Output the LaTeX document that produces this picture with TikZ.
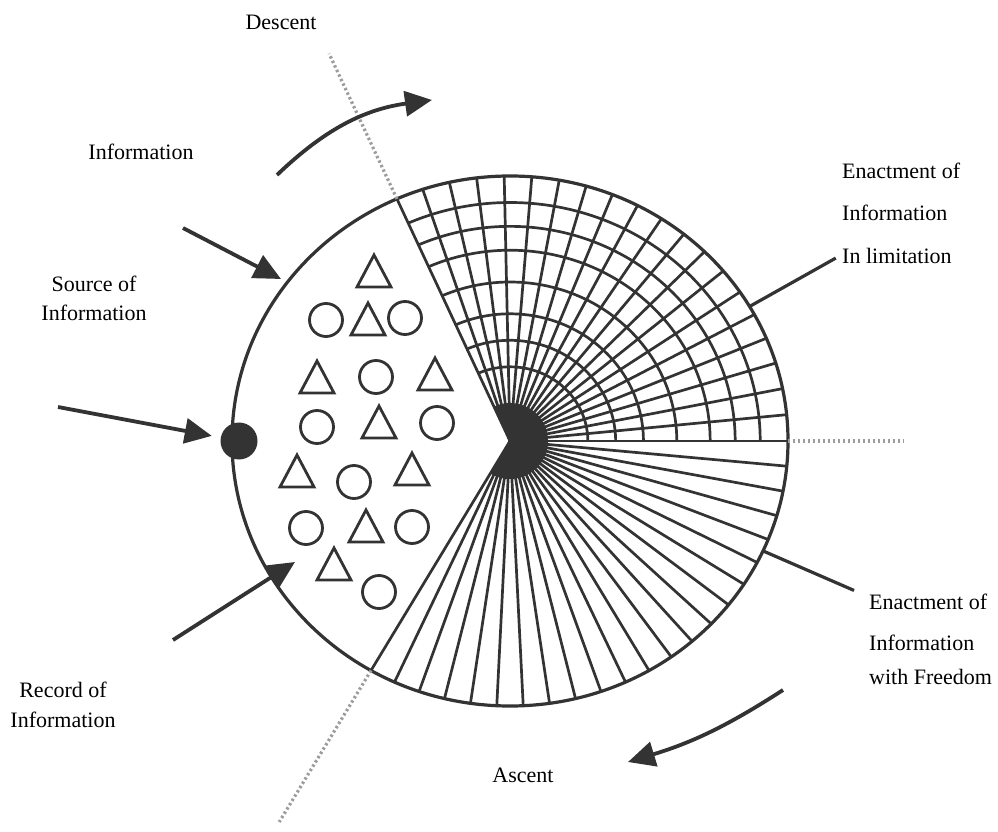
\documentclass[tikz,border=0pt]{standalone}
\usepackage{fontspec}
\setmainfont{Liberation Serif}
\usetikzlibrary{calc,positioning,arrows.meta}
\definecolor{ink}{HTML}{333333}
\definecolor{dotgray}{HTML}{9C9C9C}

\begin{document}
\begin{tikzpicture}[
    x=1pt, y=1pt,
    lbl/.style={font=\fontsize{22}{26}\selectfont, inner sep=0pt, align=center},
    rim/.style={draw=ink, line width=3.2pt},
    spoke/.style={draw=ink, line width=2.7pt},
    ring/.style={draw=ink, line width=2.7pt},
    guide/.style={draw=dotgray, line width=3.2pt, dash pattern=on 2.4pt off 2.6pt},
    pointer/.style={draw=ink, line width=3.2pt},
    bigarrow/.style={draw=ink, line width=3.8pt, -{Triangle[length=27pt,width=25pt]}},
    token/.style={draw=ink, line width=2.8pt, line join=miter},
    srcdot/.style={circle, fill=ink, minimum size=37pt, inner sep=0pt}
]
  \useasboundingbox (0,0) rectangle (998,831);
  \def\rx{278}
  \def\ry{265}
  \def\upper{114}
  \def\lower{-120}

  \coordinate (hub) at (510,390);

  \begin{scope}[shift={(hub)}]
    \fill[ink] (0,0) -- (\lower:38) arc[start angle=\lower, end angle=\upper, radius=38] -- cycle;
    \foreach \k in {0,...,20} {
      \pgfmathsetmacro{\a}{\upper*\k/20}
      \draw[spoke] (0,0) -- (\a:{\rx} and {\ry});
    }
    \foreach \k in {0,...,22} {
      \pgfmathsetmacro{\a}{\lower*\k/22}
      \draw[spoke] (0,0) -- (\a:{\rx} and {\ry});
    }
    \foreach \f in {0.28,0.38,0.48,0.6,0.72,0.81,0.9} {
      \pgfmathsetmacro{\fx}{\f*\rx}
      \pgfmathsetmacro{\fy}{\f*\ry}
      \draw[ring] (0:{\fx} and {\fy}) arc[start angle=0, end angle=\upper, x radius=\fx, y radius=\fy];
    }
    \draw[rim] (0,0) ellipse[x radius=\rx, y radius=\ry];

    \coordinate (descent-in) at (\upper:{\rx} and {\ry});
    \coordinate (ascent-in) at (\lower:{\rx} and {\ry});
    \coordinate (east-in) at (0:{\rx} and {\ry});
    \coordinate (limit-in) at (30.5:{\rx} and {\ry});
    \coordinate (freedom-in) at (-24.5:{\rx} and {\ry});
  \end{scope}

  \coordinate (descent-out) at ($(hub)!1.6!(descent-in)$);
  \coordinate (ascent-out) at ($(hub)!1.66!(ascent-in)$);
  \coordinate (east-out) at ($(hub)!1.415!(east-in)$);
  \coordinate (limit-out) at ($(hub)!1.36!(limit-in)$);
  \coordinate (freedom-out) at ($(hub)!1.36!(freedom-in)$);

  \draw[guide] (descent-in) -- (descent-out);
  \draw[guide] (ascent-in) -- (ascent-out);
  \draw[guide] (east-in) -- (east-out);
  \draw[pointer] (limit-in) -- (limit-out);
  \draw[pointer] (freedom-in) -- (freedom-out);

  \foreach \x/\y in {374/559,368/511,317/453,435/456,379/408,297/359,412/361,366/304,334/266} {
    \draw[token] (\x,\y) ++(0,17) -- ++(-17,-32) -- ++(34,0) -- cycle;
  }
  \foreach \x/\y in {326/511,405/513,376/454,317/404,437/408,354/349,306/303,412/304,379/239} {
    \draw[token] (\x,\y) circle[radius=16.5];
  }

  \node[srcdot] (src-dot) at (239,390) {};

  \node[lbl] (descent-lbl) at (281,809) {Descent};
  \node[lbl] (info-lbl) at (141,679) {Information};
  \node[lbl, font=\fontsize{22}{29}\selectfont] (source-lbl) at (94,533) {Source of\\Information};
  \node[lbl, font=\fontsize{22}{30}\selectfont] (record-lbl) at (63,126) {Record of\\Information};
  \node[lbl, align=left, anchor=west, font=\fontsize{22}{42.5}\selectfont] (limit-lbl) at (842,618)
    {Enactment of\\Information\\In limitation};
  \node[lbl, align=left, anchor=west, font=\fontsize{22}{34}\selectfont] (freedom-lbl) at (869,192)
    {Enactment of\\[7pt]Information\\with Freedom};
  \node[lbl] (ascent-lbl) at (523,56) {Ascent};

  \coordinate (descent-tail) at (277,656);
  \coordinate (descent-head) at (432,731);
  \draw[bigarrow] (descent-tail) to[bend left=18] (descent-head);

  \coordinate (info-tail) at (183,603);
  \coordinate (info-head) at (281,552);
  \draw[bigarrow] (info-tail) -- (info-head);

  \coordinate (source-tail) at (58,424);
  \draw[bigarrow, shorten >=9pt] (source-tail) -- (src-dot);

  \coordinate (record-tail) at (173,191);
  \coordinate (record-head) at (295,269);
  \draw[bigarrow] (record-tail) -- (record-head);

  \coordinate (ascent-tail) at (783,141);
  \coordinate (ascent-head) at (628,69);
  \draw[bigarrow] (ascent-tail) to[bend left=8] (ascent-head);
\end{tikzpicture}
\end{document}
